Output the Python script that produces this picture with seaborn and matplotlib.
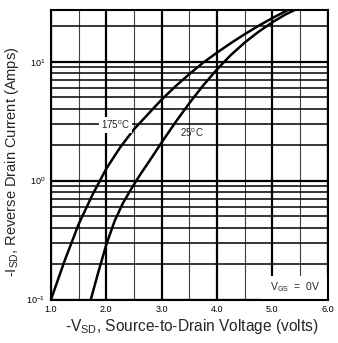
import matplotlib
matplotlib.use("Agg")
import matplotlib.pyplot as plt
from matplotlib.patches import Rectangle
from matplotlib.ticker import LogLocator, NullFormatter, FixedLocator
import numpy as np
import pandas as pd
import seaborn as sns

# Reverse diode characteristic, -I_SD vs -V_SD at two junction temperatures
v_175 = [1.00, 1.25, 1.50, 1.75, 2.00, 2.25, 2.50, 2.75, 3.00, 3.25, 3.50,
         3.75, 4.00, 4.25, 4.50, 4.75, 5.00, 5.27]
i_175 = [0.10, 0.214, 0.43, 0.76, 1.26, 1.90, 2.70, 3.60, 4.80, 6.20, 7.85,
         9.80, 11.9, 14.3, 17.0, 20.0, 23.2, 27.0]

v_25 = [1.72, 1.85, 2.00, 2.15, 2.30, 2.45, 2.60, 2.80, 3.00, 3.25, 3.50,
        3.75, 4.00, 4.25, 4.50, 4.75, 5.00, 5.25, 5.43]
i_25 = [0.10, 0.166, 0.29, 0.457, 0.645, 0.85, 1.10, 1.51, 2.09, 3.09, 4.47,
        6.30, 8.60, 11.35, 14.45, 17.8, 21.4, 25.1, 27.5]

x_ticks = [1, 2, 3, 4, 5, 6]
x_tick_labels = ["1.0", "2.0", "3.0", "4.0", "5.0", "6.0"]
x_minor = [1.5, 2.5, 3.5, 4.5, 5.5]

df = pd.concat([
    pd.DataFrame({"V": v_175, "I": i_175, "T": "175"}),
    pd.DataFrame({"V": v_25, "I": i_25, "T": "25"}),
], ignore_index=True)

sns.set_style("white")
plt.rcParams["font.family"] = ["Liberation Sans", "DejaVu Sans"]
plt.rcParams["mathtext.default"] = "regular"

fig = plt.figure(figsize=(3.38, 3.43), dpi=100)
ax = fig.add_axes([51 / 338, 1 - 299.5 / 343, 276.5 / 338, 289.5 / 343])

ax.set_yscale("log")
ax.set_xlim(1, 6)
ax.set_ylim(0.1, 27.2)

ax.xaxis.set_major_locator(FixedLocator(x_ticks))
ax.set_xticklabels(x_tick_labels)
ax.xaxis.set_minor_locator(FixedLocator(x_minor))
ax.yaxis.set_major_locator(LogLocator(base=10))
ax.yaxis.set_minor_locator(LogLocator(base=10, subs=np.arange(2, 10)))
ax.yaxis.set_minor_formatter(NullFormatter())

ax.set_axisbelow(True)
ax.xaxis.grid(True, which="major", color="black", lw=1.6)
ax.xaxis.grid(True, which="minor", color="0.25", lw=0.8)
ax.yaxis.grid(True, which="major", color="black", lw=1.6)
ax.yaxis.grid(True, which="minor", color="black", lw=1.1)

ax.tick_params(which="both", length=0, labelsize=6.5, colors="black")
ax.tick_params(axis="x", pad=4)
ax.tick_params(axis="y", pad=4)
for s in ax.spines.values():
    s.set_visible(True)
    s.set_color("black")
    s.set_linewidth(1.5)

sns.lineplot(data=df, x="V", y="I", units="T", estimator=None, sort=False,
             color="black", lw=1.8, ax=ax, zorder=3)
ax.set_xlabel("")
ax.set_ylabel("")

ax.text(2.17, 2.94, "175$^{o}$C", ha="center", va="center", fontsize=7,
        zorder=4, bbox=dict(fc="white", ec="none", pad=1.2))
ax.text(3.55, 2.52, "25$^{o}$C", ha="center", va="center", fontsize=7,
        zorder=4)

ax.add_patch(Rectangle((4.8, 0.1), 1.2, 0.058, fc="white", ec="none", zorder=2))
ax.text(5.41, 0.128, "V$_{GS}$  =  0V", ha="center", va="center",
        fontsize=7.5, zorder=4)

fig.text(12 / 338, 1 - 162 / 343, "-I$_{SD}$, Reverse Drain Current (Amps)",
         rotation=90, ha="center", va="center", fontsize=10.5)
fig.text(192 / 338, 1 - 326 / 343, "-V$_{SD}$, Source-to-Drain Voltage (volts)",
         ha="center", va="center", fontsize=11.2)

fig.savefig("out.png", dpi=100)
